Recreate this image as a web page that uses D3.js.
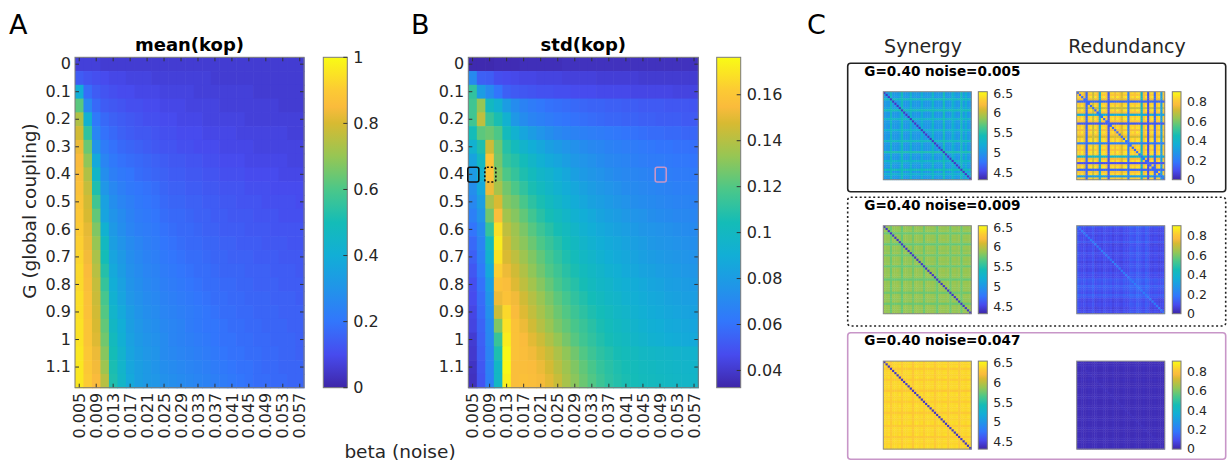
<!DOCTYPE html>
<html>
<head>
<meta charset="utf-8">
<script src="https://cdn.jsdelivr.net/npm/d3@7"></script>
<style>
  body { margin: 0; background: #fff; }
  svg { font-family: "DejaVu Sans", sans-serif; }
</style>
</head>
<body>
<div id="fig"></div>
<script>
// ---- data ----
var noise = [0.005,0.007,0.009,0.011,0.013,0.015,0.017,0.019,0.021,0.023,0.025,0.027,0.029,0.031,0.033,0.035,0.037,0.039,0.041,0.043,0.045,0.047,0.049,0.051,0.053,0.055,0.057];
var gVals = [0,0.05,0.1,0.15,0.2,0.25,0.3,0.35,0.4,0.45,0.5,0.55,0.6,0.65,0.7,0.75,0.8,0.85,0.9,0.95,1,1.05,1.1,1.15];
var noiseTickLabels = ["0.005","0.009","0.013","0.017","0.021","0.025","0.029","0.033","0.037","0.041","0.045","0.049","0.053","0.057"];
var gTickLabels = ["0","0.1","0.2","0.3","0.4","0.5","0.6","0.7","0.8","0.9","1","1.1"];

// mean(kop), rows = G, cols = noise
var meanKop = [
  [.07,.07,.07,.06,.06,.06,.06,.06,.06,.06,.06,.06,.06,.06,.06,.06,.06,.06,.06,.06,.06,.06,.06,.06,.06,.06,.06],
  [.14,.12,.11,.10,.09,.09,.08,.08,.08,.07,.07,.07,.07,.07,.07,.07,.06,.06,.06,.06,.06,.06,.06,.06,.06,.06,.06],
  [.40,.18,.14,.12,.11,.10,.10,.09,.09,.09,.08,.08,.08,.08,.07,.07,.07,.07,.07,.07,.07,.06,.06,.06,.06,.06,.06],
  [.62,.26,.17,.14,.13,.12,.11,.11,.10,.10,.09,.09,.09,.08,.08,.08,.08,.07,.07,.07,.07,.07,.07,.07,.06,.06,.06],
  [.74,.42,.21,.17,.15,.14,.13,.12,.11,.11,.10,.10,.09,.09,.09,.08,.08,.08,.08,.08,.07,.07,.07,.07,.07,.07,.07],
  [.79,.55,.25,.19,.17,.15,.14,.13,.13,.12,.11,.11,.10,.10,.10,.09,.09,.09,.09,.08,.08,.08,.08,.08,.08,.07,.07],
  [.83,.64,.30,.22,.19,.17,.16,.15,.14,.13,.12,.12,.11,.11,.10,.10,.10,.09,.09,.09,.09,.08,.08,.08,.08,.08,.08],
  [.85,.69,.38,.25,.21,.19,.18,.17,.16,.15,.14,.13,.13,.12,.12,.11,.11,.10,.10,.10,.09,.09,.09,.09,.09,.08,.08],
  [.86,.74,.45,.28,.23,.21,.20,.18,.17,.16,.15,.14,.14,.13,.13,.12,.12,.11,.11,.11,.10,.10,.10,.10,.09,.09,.09],
  [.87,.77,.52,.31,.26,.23,.21,.20,.19,.18,.16,.15,.15,.14,.14,.13,.13,.12,.12,.12,.11,.11,.11,.10,.10,.10,.10],
  [.88,.79,.58,.35,.28,.25,.23,.21,.20,.19,.17,.16,.16,.15,.15,.14,.14,.13,.13,.12,.12,.12,.11,.11,.11,.11,.10],
  [.89,.80,.63,.36,.30,.27,.24,.22,.21,.20,.18,.17,.17,.16,.15,.15,.14,.14,.13,.13,.13,.12,.12,.12,.11,.11,.11],
  [.90,.82,.67,.42,.32,.28,.25,.23,.22,.21,.19,.18,.17,.17,.16,.15,.15,.14,.14,.14,.13,.13,.13,.12,.12,.12,.12],
  [.91,.83,.70,.47,.34,.30,.27,.25,.23,.22,.20,.19,.18,.17,.17,.16,.16,.15,.15,.14,.14,.14,.13,.13,.13,.12,.12],
  [.92,.84,.73,.50,.36,.32,.28,.26,.24,.23,.21,.20,.19,.18,.18,.17,.16,.16,.15,.15,.15,.14,.14,.14,.13,.13,.13],
  [.93,.85,.75,.53,.38,.33,.29,.27,.25,.24,.22,.21,.20,.19,.18,.18,.17,.16,.16,.16,.15,.15,.15,.14,.14,.14,.13],
  [.93,.86,.77,.56,.40,.35,.30,.28,.26,.25,.23,.22,.21,.20,.19,.18,.18,.17,.17,.16,.16,.15,.15,.15,.14,.14,.14],
  [.94,.87,.78,.59,.42,.36,.31,.29,.27,.26,.24,.23,.22,.21,.20,.19,.18,.18,.17,.17,.16,.16,.16,.15,.15,.15,.14],
  [.94,.87,.79,.61,.44,.38,.33,.30,.28,.27,.25,.24,.23,.22,.21,.20,.19,.18,.18,.17,.17,.16,.16,.16,.15,.15,.15],
  [.95,.88,.80,.63,.46,.40,.34,.31,.29,.28,.26,.25,.24,.22,.21,.20,.20,.19,.18,.18,.17,.17,.16,.16,.16,.15,.15],
  [.95,.88,.81,.65,.48,.41,.35,.32,.30,.29,.27,.25,.24,.23,.22,.21,.20,.19,.19,.18,.18,.17,.17,.16,.16,.16,.15],
  [.96,.89,.83,.68,.50,.43,.36,.33,.31,.30,.27,.26,.25,.24,.23,.22,.21,.20,.19,.19,.18,.18,.17,.17,.16,.16,.15],
  [.96,.89,.84,.71,.51,.44,.37,.34,.32,.30,.28,.27,.26,.25,.24,.23,.22,.21,.20,.19,.19,.18,.17,.17,.16,.16,.16],
  [.96,.90,.85,.75,.52,.45,.38,.34,.32,.31,.29,.28,.27,.26,.25,.24,.23,.22,.21,.20,.19,.18,.18,.17,.17,.16,.16]
];

// std(kop)
var stdKop = [
  [.034,.034,.034,.035,.035,.035,.036,.036,.036,.036,.036,.037,.037,.037,.037,.037,.037,.037,.037,.037,.037,.037,.037,.037,.037,.037,.037],
  [.071,.054,.053,.048,.047,.046,.045,.045,.044,.044,.044,.043,.043,.043,.043,.042,.042,.042,.042,.042,.041,.041,.041,.041,.041,.041,.041],
  [.112,.080,.071,.061,.054,.052,.051,.050,.049,.049,.048,.048,.047,.047,.047,.046,.046,.046,.046,.045,.045,.045,.045,.045,.044,.044,.044],
  [.116,.133,.100,.093,.080,.072,.067,.064,.062,.060,.059,.058,.057,.056,.055,.055,.054,.054,.053,.053,.052,.052,.052,.051,.051,.051,.050],
  [.116,.142,.114,.106,.093,.078,.072,.068,.066,.064,.062,.061,.060,.059,.058,.057,.056,.056,.055,.055,.054,.054,.053,.053,.053,.052,.052],
  [.104,.122,.125,.119,.102,.093,.085,.080,.076,.073,.070,.068,.067,.066,.065,.064,.063,.062,.061,.060,.059,.058,.058,.057,.057,.056,.056],
  [.093,.107,.145,.125,.109,.102,.095,.090,.086,.082,.079,.076,.074,.072,.070,.069,.067,.066,.065,.064,.063,.062,.061,.061,.060,.060,.059],
  [.084,.099,.159,.127,.113,.109,.103,.097,.092,.088,.085,.081,.078,.076,.074,.072,.070,.069,.068,.066,.065,.064,.064,.063,.062,.062,.061],
  [.079,.093,.158,.130,.119,.113,.107,.102,.097,.094,.090,.086,.082,.079,.077,.075,.073,.071,.070,.069,.068,.067,.066,.065,.064,.064,.063],
  [.073,.087,.152,.137,.126,.119,.112,.106,.101,.097,.093,.089,.086,.083,.080,.078,.076,.074,.072,.071,.070,.069,.068,.067,.066,.066,.065],
  [.070,.081,.137,.148,.130,.126,.118,.111,.106,.101,.097,.093,.089,.086,.083,.081,.079,.077,.075,.073,.072,.071,.070,.069,.068,.068,.067],
  [.066,.076,.126,.156,.136,.130,.123,.116,.110,.105,.101,.097,.093,.090,.087,.084,.082,.080,.078,.076,.075,.073,.072,.071,.070,.070,.069],
  [.061,.071,.113,.168,.142,.135,.128,.121,.115,.110,.105,.101,.097,.093,.090,.087,.085,.083,.081,.079,.077,.076,.075,.074,.073,.072,.071],
  [.057,.068,.102,.172,.146,.137,.131,.125,.119,.114,.109,.104,.100,.096,.093,.090,.088,.086,.084,.082,.080,.078,.077,.076,.075,.074,.073],
  [.054,.066,.094,.169,.148,.142,.135,.129,.123,.117,.112,.107,.103,.099,.096,.093,.090,.088,.086,.084,.082,.080,.079,.078,.077,.076,.075],
  [.051,.063,.087,.163,.152,.146,.139,.132,.126,.120,.115,.110,.106,.102,.099,.096,.093,.091,.088,.086,.084,.083,.081,.080,.079,.078,.077],
  [.048,.060,.081,.158,.156,.149,.142,.136,.130,.124,.118,.113,.109,.105,.101,.098,.096,.093,.091,.089,.087,.085,.084,.082,.081,.080,.079],
  [.047,.058,.077,.152,.158,.153,.146,.140,.134,.128,.122,.117,.112,.108,.104,.101,.098,.096,.093,.091,.089,.087,.086,.084,.083,.082,.081],
  [.045,.057,.074,.145,.166,.155,.149,.143,.137,.131,.125,.120,.115,.111,.107,.104,.101,.098,.096,.093,.091,.089,.088,.086,.085,.084,.083],
  [.044,.055,.071,.129,.169,.158,.152,.146,.140,.134,.128,.123,.118,.114,.110,.106,.103,.100,.098,.095,.093,.091,.090,.088,.087,.086,.085],
  [.041,.054,.070,.114,.172,.158,.155,.150,.145,.139,.133,.127,.121,.116,.112,.108,.105,.102,.100,.097,.095,.093,.092,.090,.089,.088,.087],
  [.040,.053,.068,.107,.175,.158,.156,.153,.149,.144,.138,.132,.126,.120,.115,.111,.108,.105,.103,.101,.099,.098,.097,.096,.095,.094,.094],
  [.038,.051,.067,.099,.175,.156,.156,.155,.152,.147,.141,.135,.129,.123,.118,.113,.110,.107,.105,.103,.101,.100,.099,.098,.097,.096,.096],
  [.037,.050,.066,.099,.173,.156,.157,.156,.154,.150,.144,.137,.131,.125,.120,.115,.111,.108,.106,.104,.102,.101,.100,.099,.098,.097,.097]
];

var meanTicks = [0, 0.2, 0.4, 0.6, 0.8, 1];
var stdTicks = [0.04, 0.06, 0.08, 0.1, 0.12, 0.14, 0.16];

// highlighted cells in panel B (G, noise)
var markG = [0.4, 0.4, 0.4];
var markNoise = [0.005, 0.009, 0.049];

// panel C examples
var exampleTitles = ["G=0.40 noise=0.005", "G=0.40 noise=0.009", "G=0.40 noise=0.047"];
var synTicks = [4.5, 5, 5.5, 6, 6.5];
var redTicks = [0, 0.2, 0.4, 0.6, 0.8];
// per-node strengths used to build the example matrices
var synNodes1 = [5.0,5.05,4.95,5.35,5.0,5.02,4.98,5.1,5.4,5.0,4.97,5.03,5.3,5.0,5.05,4.96,5.0,5.25,5.02,4.99,5.0,5.05,5.35,4.98,5.0,5.03,5.0,5.45,5.02,4.97,5.0,5.3,5.1,5.0,4.98,5.4,5.0,5.25,5.02,5.0];
var redNodes1 = [0.85,0.8,0.88,0.75,0.15,0.82,0.86,0.7,0.9,0.78,0.35,0.84,0.87,0.8,0.12,0.83,0.86,0.76,0.88,0.81,0.72,0.85,0.87,0.2,0.82,0.86,0.79,0.88,0.84,0.4,0.77,0.86,0.1,0.83,0.87,0.15,0.8,0.85,0.3,0.82];
var synNodes2 = [5.9,5.86,5.88,5.74,5.9,5.87,5.92,5.86,5.72,5.9,5.88,5.85,5.9,5.76,5.88,5.9,5.86,5.9,5.74,5.88,5.92,5.87,5.9,5.85,5.73,5.9,5.88,5.93,5.86,5.9,5.75,5.88,5.9,5.85,5.9,5.74,5.88,5.9,5.87,5.9];
var redNodes2 = [0.15,0.1,0.08,0.12,0.07,0.1,0.09,0.14,0.06,0.08,0.1,0.07,0.12,0.09,0.08,0.11,0.06,0.09,0.1,0.08,0.07,0.12,0.09,0.1,0.16,0.14,0.12,0.18,0.15,0.13,0.1,0.17,0.14,0.08,0.07,0.1,0.09,0.06,0.08,0.1];
var synNodes3 = [6.4,6.36,6.42,6.3,6.38,6.4,6.36,6.44,6.31,6.4,6.37,6.41,6.38,6.29,6.4,6.43,6.36,6.4,6.32,6.39,6.42,6.37,6.4,6.3,6.38,6.41,6.36,6.4,6.43,6.31,6.39,6.4,6.37,6.42,6.3,6.38,6.4,6.36,6.41,6.4];
var redNodes3 = [0.03,0.02,0.03,0.02,0.02,0.03,0.02,0.02,0.03,0.02,0.02,0.02,0.03,0.02,0.02,0.02,0.03,0.02,0.02,0.02,0.02,0.03,0.02,0.02,0.02,0.02,0.03,0.02,0.02,0.02,0.03,0.02,0.02,0.02,0.02,0.03,0.02,0.02,0.02,0.02];
var synDiag = [4.4, 4.4, 4.4];
var redDiag = [0.15, 0.2, 0.03];

// ---- parula-like colormap ----
var parula = d3.scaleLinear()
  .domain([0, 0.1, 0.2, 0.3, 0.4, 0.5, 0.6, 0.7, 0.8, 0.85, 0.9, 1])
  .range(["#3e26a8", "#474bee", "#3276fc", "#2194e9", "#12aed6", "#14bcb7", "#4bc789", "#96c654", "#d7ba32", "#fabb3c", "#fcca34", "#f9fb15"])
  .clamp(true);

var W = 1227, H = 463;
var svg = d3.select("#fig").append("svg").attr("width", W).attr("height", H);

var defs = svg.append("defs");
var grad = defs.append("linearGradient").attr("id", "parulaGrad")
  .attr("x1", 0).attr("y1", 1).attr("x2", 0).attr("y2", 0);
d3.range(0, 1.0001, 0.05).forEach(function (t) {
  grad.append("stop").attr("offset", t).attr("stop-color", parula(t));
});

function colorbar(x0, y0, w, h, dom, ticks, fs, showTicks) {
  var cy = d3.scaleLinear().domain(dom).range([y0 + h, y0]);
  svg.append("rect").attr("x", x0).attr("y", y0).attr("width", w).attr("height", h)
    .attr("fill", "url(#parulaGrad)").attr("stroke", "#7a7a7a").attr("stroke-width", 1);
  ticks.forEach(function (t) {
    if (showTicks) {
      svg.append("line").attr("x1", x0 + w - 4).attr("x2", x0 + w)
        .attr("y1", cy(t)).attr("y2", cy(t)).attr("stroke", "#333").attr("stroke-width", 1);
    }
    svg.append("text").attr("x", x0 + w + 6).attr("y", cy(t)).attr("dy", "0.35em")
      .attr("font-size", fs).attr("fill", "#262626").text(String(t));
  });
}

function heatmap(o) {
  var x = d3.scaleBand().domain(noise).range([o.left, o.left + o.w]);
  var y = d3.scaleBand().domain(gVals).range([o.top, o.top + o.h]);
  var col = function (v) { return parula((v - o.dom[0]) / (o.dom[1] - o.dom[0])); };

  var g = svg.append("g");
  o.data.forEach(function (row, i) {
    g.selectAll(null).data(row).enter().append("rect")
      .attr("x", function (d, j) { return x(noise[j]); })
      .attr("y", y(gVals[i]))
      .attr("width", x.bandwidth() + 0.6)
      .attr("height", y.bandwidth() + 0.6)
      .attr("fill", function (d) { return col(d); });
  });

  var xt = noise.filter(function (d, i) { return i % 2 === 0; });
  var yt = gVals.filter(function (d, i) { return i % 2 === 0; });

  var xb = svg.append("g").attr("transform", "translate(0," + (o.top + o.h) + ")")
    .call(d3.axisBottom(x).tickValues(xt).tickSize(-4)
      .tickFormat(function (d, i) { return noiseTickLabels[i]; }));
  xb.selectAll("text").attr("transform", "rotate(-90)").attr("x", -5).attr("y", 0)
    .attr("dy", "0.35em").attr("text-anchor", "end");
  svg.append("g").attr("transform", "translate(0," + o.top + ")")
    .call(d3.axisTop(x).tickValues(xt).tickSize(-4).tickFormat(""));
  svg.append("g").attr("transform", "translate(" + o.left + ",0)")
    .call(d3.axisLeft(y).tickValues(yt).tickSize(-4).tickPadding(4)
      .tickFormat(function (d, i) { return gTickLabels[i]; }));
  svg.append("g").attr("transform", "translate(" + (o.left + o.w) + ",0)")
    .call(d3.axisRight(y).tickValues(yt).tickSize(-4).tickFormat(""));

  svg.selectAll(".domain").remove();
  svg.selectAll(".tick line").attr("stroke", "#333");
  svg.selectAll(".tick text").attr("font-size", 16).attr("fill", "#262626")
    .attr("font-family", "DejaVu Sans, sans-serif");

  svg.append("rect").attr("x", o.left).attr("y", o.top).attr("width", o.w).attr("height", o.h)
    .attr("fill", "none").attr("stroke", "#7a7a7a").attr("stroke-width", 1);

  svg.append("text").attr("x", o.left + o.w / 2).attr("y", 51).attr("text-anchor", "middle")
    .attr("font-size", 18).attr("font-weight", "bold").attr("fill", "#000").text(o.title);

  colorbar(o.cbX, o.top, 24, o.h, o.dom, o.ticks, 16, true);
  return { x: x, y: y };
}

var plotTop = 57.3, plotH = 330.4;

heatmap({ left: 75, top: plotTop, w: 229, h: plotH, data: meanKop, dom: [0, 1],
  title: "mean(kop)", cbX: 323.3, ticks: meanTicks });
var sB = heatmap({ left: 468.3, top: plotTop, w: 230, h: plotH, data: stdKop, dom: [0.0325, 0.1763],
  title: "std(kop)", cbX: 716.7, ticks: stdTicks });

// markers on panel B
var markStyle = [
  { stroke: "#111", dash: null },
  { stroke: "#111", dash: "2,2" },
  { stroke: "#c896c8", dash: null }
];
markG.forEach(function (gv, i) {
  var bx = sB.x(markNoise[i]), by = sB.y(gv);
  var r = svg.append("rect").attr("x", bx - 0.5).attr("y", by - 0.2)
    .attr("width", sB.x.bandwidth() + 2.5).attr("height", sB.y.bandwidth() + 1)
    .attr("rx", 2).attr("fill", "none")
    .attr("stroke", markStyle[i].stroke).attr("stroke-width", 1.6);
  if (markStyle[i].dash) r.attr("stroke-dasharray", markStyle[i].dash);
});

// axis labels
svg.append("text").attr("transform", "translate(36,211) rotate(-90)").attr("text-anchor", "middle")
  .attr("font-size", 18.5).attr("fill", "#262626").text("G (global coupling)");
svg.append("text").attr("x", 400).attr("y", 458).attr("text-anchor", "middle")
  .attr("font-size", 18.5).attr("fill", "#262626").text("beta (noise)");

// panel letters
[["A", 9], ["B", 411], ["C", 807]].forEach(function (p) {
  svg.append("text").attr("x", p[1]).attr("y", 34).attr("font-size", 27).attr("fill", "#000").text(p[0]);
});

// ---- panel C ----
svg.append("text").attr("x", 923).attr("y", 53).attr("text-anchor", "middle")
  .attr("font-size", 19).attr("fill", "#262626").text("Synergy");
svg.append("text").attr("x", 1127).attr("y", 53).attr("text-anchor", "middle")
  .attr("font-size", 19).attr("fill", "#262626").text("Redundancy");

function matrix(x0, y0, size, nodes, diagVal, mode, dom) {
  var n = nodes.length;
  var s = d3.scaleBand().domain(d3.range(n)).range([0, size]);
  var cells = [];
  for (var i = 0; i < n; i++) {
    for (var j = 0; j < n; j++) {
      var v;
      if (i === j) v = diagVal;
      else if (mode === "max") v = Math.max(nodes[i], nodes[j]);
      else if (mode === "min") v = Math.min(nodes[i], nodes[j]);
      else v = (nodes[i] + nodes[j]) / 2;
      cells.push({ i: i, j: j, v: v });
    }
  }
  var g = svg.append("g").attr("transform", "translate(" + x0 + "," + y0 + ")");
  g.selectAll("rect").data(cells).enter().append("rect")
    .attr("x", function (d) { return s(d.j); })
    .attr("y", function (d) { return s(d.i); })
    .attr("width", s.bandwidth() + 0.4)
    .attr("height", s.bandwidth() + 0.4)
    .attr("fill", function (d) { return parula((d.v - dom[0]) / (dom[1] - dom[0])); });
  g.append("rect").attr("width", size).attr("height", size).attr("fill", "none")
    .attr("stroke", "#8a8a8a").attr("stroke-width", 1);
}

var boxTops = [63.3, 197.3, 332.7];
var boxH = [128.4, 128.7, 126.6];
var boxStroke = ["#222", "#222", "#c896c8"];
var boxDash = [null, "2,2.5", null];
var synSets = [synNodes1, synNodes2, synNodes3];
var redSets = [redNodes1, redNodes2, redNodes3];
var synMode = ["max", "min", "min"];
var redMode = ["min", "mean", "mean"];
var synDom = [4.31, 6.54], redDom = [0, 0.905];

boxTops.forEach(function (bt, k) {
  var b = svg.append("rect").attr("x", 847.7).attr("y", bt).attr("width", 378).attr("height", boxH[k])
    .attr("rx", 3).attr("fill", "none").attr("stroke", boxStroke[k]).attr("stroke-width", 1.6);
  if (boxDash[k]) b.attr("stroke-dasharray", boxDash[k]);

  svg.append("text").attr("x", 864.3).attr("y", bt + 12.3).attr("font-size", 13.6)
    .attr("font-weight", "bold").attr("fill", "#000").text(exampleTitles[k]);

  var my = bt + 28.4;
  matrix(883.3, my, 88, synSets[k], synDiag[k], synMode[k], synDom);
  colorbar(978.3, my, 9, 88, synDom, synTicks, 12.5, false);
  matrix(1076.7, my, 88, redSets[k], redDiag[k], redMode[k], redDom);
  colorbar(1172.3, my, 8.7, 88, redDom, redTicks, 12.5, false);
});
</script>
</body>
</html>
